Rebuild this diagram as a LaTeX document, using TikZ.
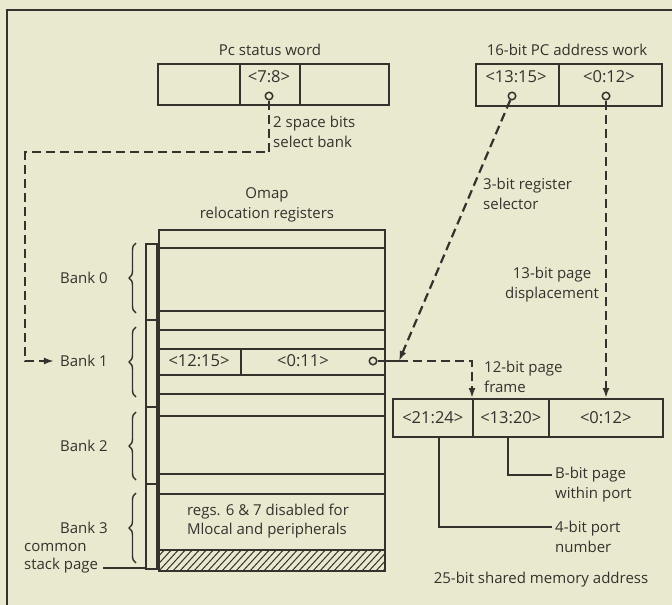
\documentclass[tikz,border=0pt]{standalone}
\usepackage{fontspec}
\setmainfont{Open Sans}
\usetikzlibrary{arrows.meta,decorations.pathreplacing}
\definecolor{bg}{HTML}{E9E9D0}
\definecolor{ink}{HTML}{35312D}
\begin{document}
\begin{tikzpicture}[x=1pt,y=-1pt,
  every node/.style={text=ink, font=\fontsize{15}{20}\selectfont},
  cell/.style={draw=ink, line width=1.6pt, anchor=north west, inner sep=0pt, rectangle},
  bar/.style={draw=ink, line width=1.5pt, anchor=north west, inner sep=0pt, rectangle},
  ct/.style={inner sep=0pt, font=\fontsize{16.5}{20}\selectfont},
  ln/.style={draw=ink, line width=1.6pt},
  hatchln/.style={draw=ink, line width=1pt},
  dsh/.style={draw=ink, line width=2.2pt, dash pattern=on 9pt off 5pt},
  tip/.style={-{Latex[length=10pt,width=7pt]}},
  circ/.style={circle, draw=ink, line width=1.5pt, fill=bg, inner sep=0pt, minimum size=7.5pt},
  lbl/.style={align=left, inner sep=0pt},
  brc/.style={draw=ink, line width=1.4pt, decorate, decoration={brace, amplitude=7pt}}
]
\useasboundingbox (0,0) rectangle (672,605);
\fill[bg] (0,0) rectangle (672,605);
\draw[ln] (7,605) -- (7,10) -- (672,10);

% Pc status word
\node[inner sep=0pt] (pswt) at (270,50) {Pc status word};
\node[cell, minimum width=82pt, minimum height=41pt] (psw1) at (157,63) {};
\node[cell, minimum width=60pt, minimum height=41pt] (psw2) at (239,63) {};
\node[cell, minimum width=89pt, minimum height=41pt] (psw3) at (299,63) {};
\node[ct] (psw2t) at (269,77) {<7:8>};
\node[circ] (c1) at (269,96) {};
\node[lbl, anchor=west] (sel) at (273,132) {2 space bits\\select bank};

% 16-bit PC address
\node[inner sep=0pt] (pct) at (567,50) {16-bit PC address work};
\node[cell, minimum width=83pt, minimum height=42pt] (pc1) at (475,63) {};
\node[cell, minimum width=103pt, minimum height=42pt] (pc2) at (558,63) {};
\node[ct] (pc1t) at (516,77) {<13:15>};
\node[ct] (pc2t) at (609,77) {<0:12>};
\node[circ] (c2) at (512,96) {};
\node[circ] (c3) at (606,96) {};

% Omap
\node[align=center, inner sep=0pt] (omap) at (267,205) {Omap\\relocation registers};
\node[cell, minimum width=226pt, minimum height=18pt] (r0) at (158,229) {};
\node[cell, minimum width=226pt, minimum height=63pt] (r1) at (158,247) {};
\node[cell, minimum width=226pt, minimum height=19pt] (r2) at (158,310) {};
\node[cell, minimum width=226pt, minimum height=19pt] (r3) at (158,329) {};
\node[cell, minimum width=82pt, minimum height=26pt] (r4a) at (158,348) {};
\node[cell, minimum width=144pt, minimum height=26pt] (r4b) at (240,348) {};
\node[ct] (r4at) at (199,361) {<12:15>};
\node[ct] (r4bt) at (303,361) {<0:11>};
\node[circ] (c4) at (373,361) {};
\node[cell, minimum width=226pt, minimum height=19pt] (r5) at (158,374) {};
\node[cell, minimum width=226pt, minimum height=22pt] (r6) at (158,393) {};
\node[cell, minimum width=226pt, minimum height=58pt] (r7) at (158,415) {};
\node[cell, minimum width=226pt, minimum height=20pt] (r8) at (158,473) {};
\node[cell, minimum width=226pt, minimum height=56pt] (r9) at (158,493) {};
\node[lbl, font=\fontsize{15}{18.5}\selectfont] (regs) at (268,521) {regs. 6 \& 7 disabled for\\Mlocal and peripherals};
\begin{scope}
  \clip (158,549) rectangle (384,570);
  \foreach \x in {130,137,...,390} \draw[hatchln] (\x,572) -- (\x+23,547);
\end{scope}
\node[cell, minimum width=226pt, minimum height=21pt] (r10) at (158,549) {};

% bank bar
\node[bar, minimum width=11pt, minimum height=76pt] (s0) at (145,243) {};
\node[bar, minimum width=11pt, minimum height=87pt] (s1) at (145,319) {};
\node[bar, minimum width=11pt, minimum height=77pt] (s2) at (145,406) {};
\node[bar, minimum width=11pt, minimum height=85pt] (s3) at (145,483) {};

% braces and bank labels
\draw[brc] (136,313) -- (136,243);
\draw[brc] (136,397) -- (136,327);
\draw[brc] (136,480) -- (136,412);
\draw[brc] (136,563) -- (136,493);
\node[inner sep=0pt, anchor=east] (b0) at (108,278) {Bank 0};
\node[inner sep=0pt, anchor=east] (b1) at (108,361) {Bank 1};
\node[inner sep=0pt, anchor=east] (b2) at (108,446) {Bank 2};
\node[inner sep=0pt, anchor=east] (b3) at (108,528) {Bank 3};
\node[lbl, anchor=west, font=\fontsize{15}{18.5}\selectfont] (csp) at (24,558) {common\\stack page};
\coordinate (cspe) at (103,568);
\draw[ln] (cspe) -- (cspe -| s3.west);

% 25-bit address
\node[cell, minimum width=80pt, minimum height=38pt] (a1) at (392,398) {};
\node[cell, minimum width=76pt, minimum height=38pt] (a2) at (472,398) {};
\node[cell, minimum width=114pt, minimum height=38pt] (a3) at (548,398) {};
\node[ct] (a1t) at (a1.center) {<21:24>};
\node[ct] (a2t) at (a2.center) {<13:20>};
\node[ct] (a3t) at (a3.center) {<0:12>};
\node[lbl, anchor=west] (l12) at (484,377) {12-bit page\\frame};
\node[lbl, anchor=west] (l8) at (555,485) {B-bit page\\within port};
\node[lbl, anchor=west] (l4) at (555,537) {4-bit port\\number};
\node[inner sep=0pt] (l25) at (541,580) {25-bit shared memory address};
\node[lbl, anchor=west] (l3) at (483,194) {3-bit register\\selector};
\node[align=center, inner sep=0pt] (l13) at (552,285) {13-bit page\\displacement};

% connectors
\draw[dsh, tip] (c1) -- (269,152) -- (25,152) -- (25,361) -- ([xshift=-6pt]b1.west);
\coordinate (j) at (399,361);
\draw[dsh, tip] (c2) -- (j);
\draw[ln] (c4) -- (j);
\draw[dsh, tip] (j) -- (a2.north west |- j) -- (a2.north west);
\draw[dsh, tip] (c3) -- (c3 |- a3.north);
\draw[ln] ([xshift=-3pt]a2.south) |- ([xshift=-3pt, yshift=10pt]l8.west);
\draw[ln] ([xshift=6pt]a1.south) |- ([xshift=-3pt, yshift=10pt]l4.west);
\end{tikzpicture}
\end{document}
